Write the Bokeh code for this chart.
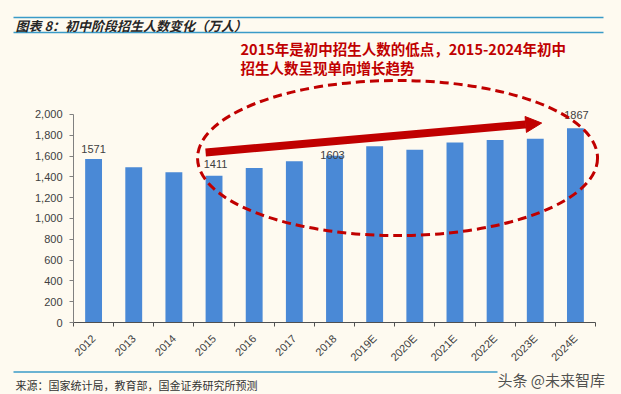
import math
from bokeh.plotting import figure
from bokeh.models import Range1d, FixedTicker, NumeralTickFormatter, Arrow, NormalHead, ColumnDataSource
from bokeh.core.properties import value
from bokeh.embed import file_html
from bokeh.resources import INLINE

# ---------------- data ----------------
years = ["2012", "2013", "2014", "2015", "2016", "2017", "2018",
         "2019E", "2020E", "2021E", "2022E", "2023E", "2024E"]
students = [1571, 1493, 1445, 1411, 1485, 1550, 1603,
            1695, 1660, 1731, 1753, 1765, 1867]
labelled = [0, 3, 6, 12]            # bars that carry a value label
y_ticks = list(range(0, 2001, 200))

title = "图表 8：初中阶段招生人数变化（万人）"
note1 = "2015年是初中招生人数的低点，2015-2024年初中"
note2 = "招生人数呈现单向增长趋势"
source = "来源：国家统计局，教育部，国金证券研究所预测"
watermark = "头条 @未来智库"

# ---------------- style ----------------
BG = "#FEFAF0"
BLUE = "#4A89D6"
RED = "#C00000"
RULE = "#3A9BC8"
TXT = "#404040"
CJK = value("Noto Sans CJK SC")
LAT = value("Liberation Sans")
W = 621


def strip(y0, y1):
    """A plain drawing strip whose data units are page pixels."""
    return figure(width=W, height=y1 - y0, x_range=Range1d(0, W), y_range=Range1d(y1, y0),
                  toolbar_location=None, output_backend="svg", min_border=0,
                  x_axis_type=None, y_axis_type=None, outline_line_color=None,
                  background_fill_color=BG, border_fill_color=BG)


# ---------------- header ----------------
head = strip(0, 38)
head.segment(x0=[13, 13], y0=[17, 32], x1=[603, 603], y1=[17, 32], line_color=RULE, line_width=1.5)
head.text(x=[15], y=[24.5], text=[title], text_baseline="middle", text_align="left",
          text_font=CJK, text_font_size="13px", text_font_style="bold italic", text_color="#262626")

# ---------------- main chart ----------------
n = len(years)
idx = list(range(n))
ytop = 2710.5
pad_right = 5 / 40.154          # a little room right of the last category for the ellipse
p = figure(width=W, height=332, x_range=Range1d(-0.5, n - 0.5 + pad_right), y_range=Range1d(0, ytop),
           toolbar_location=None, output_backend="svg",
           min_border_left=73, min_border_right=21, min_border_top=2, min_border_bottom=48,
           background_fill_color=BG, border_fill_color=BG, outline_line_color=None)
p.xgrid.visible = False
p.ygrid.visible = False

p.vbar(x=idx, top=students, width=0.42, fill_color=BLUE, line_color=None)

lab = ColumnDataSource(dict(
    x=[idx[i] for i in labelled],
    y=[students[i] for i in labelled],
    t=[str(students[i]) for i in labelled],
    dx=[0, 1.5, -2, 1],
    dy=[-10, -12, -1, -13],
))
p.text(x="x", y="y", text="t", x_offset="dx", y_offset="dy", source=lab,
       text_align="center", text_baseline="middle", text_font=LAT,
       text_font_size="11px", text_color=TXT)

xa = p.xaxis[0]
xa.ticker = FixedTicker(ticks=idx, minor_ticks=[i - 0.5 for i in range(n + 1)])
xa.bounds = (-0.5, n - 0.5)
xa.major_label_overrides = {i: y for i, y in zip(idx, years)}
xa.major_label_orientation = math.pi / 4
xa.major_tick_out = 0
xa.major_tick_in = 0
xa.minor_tick_out = 4
xa.minor_tick_in = 0
xa.major_label_standoff = 10
xa.axis_line_color = "#505050"
xa.minor_tick_line_color = "#505050"
xa.major_label_text_font = "Liberation Sans"
xa.major_label_text_font_size = "11px"
xa.major_label_text_color = TXT

ya = p.yaxis[0]
ya.ticker = FixedTicker(ticks=y_ticks, minor_ticks=[])
ya.bounds = (y_ticks[0], y_ticks[-1])
ya.formatter = NumeralTickFormatter(format="0,0")
ya.major_tick_out = 4
ya.major_tick_in = 0
ya.minor_tick_out = 0
ya.minor_tick_in = 0
ya.major_label_standoff = 7
ya.axis_line_color = "#808080"
ya.major_tick_line_color = "#808080"
ya.major_label_text_font = "Liberation Sans"
ya.major_label_text_font_size = "11px"
ya.major_label_text_color = TXT

p.ellipse(x=[7.57], y=[1581], width=[400], height=[155], width_units="screen", height_units="screen",
          fill_color=None, line_color=RED, line_width=3, line_dash="9 5")
p.add_layout(Arrow(end=NormalHead(size=16, fill_color=RED, line_color=RED),
                   x_start=2.79, y_start=1634, x_end=11.16, y_end=1917,
                   line_color=RED, line_width=8))
p.text(x=[3.66, 3.66], y=[2634, 2451], text=[note1, note2], text_align="left",
       text_baseline="middle", text_font=CJK, text_font_size="14.5px",
       text_font_style="bold", text_color=RED)

# ---------------- footer ----------------
foot = strip(370, 394)
foot.segment(x0=[13], y0=[371.5], x1=[497], y1=[371.5], line_color=RULE, line_width=1.5)
foot.text(x=[15], y=[384], text=[source], text_baseline="middle", text_align="left",
          text_font=CJK, text_font_size="11px", text_color="#333333")
foot.text(x=[497], y=[378.5], text=[watermark], text_baseline="middle", text_align="left",
          text_font=CJK, text_font_size="15px", text_color="#3A3A3A", text_alpha=0.9)

html = file_html([head, p, foot], INLINE)
a, sep, b = html.partition("</head>")
b = b.replace("<body>", '<body style="margin:0;padding:0;background:#FEFAF0;'
                        'display:flex;flex-direction:column;">', 1)
open("out.html", "w").write(a + sep + b)
